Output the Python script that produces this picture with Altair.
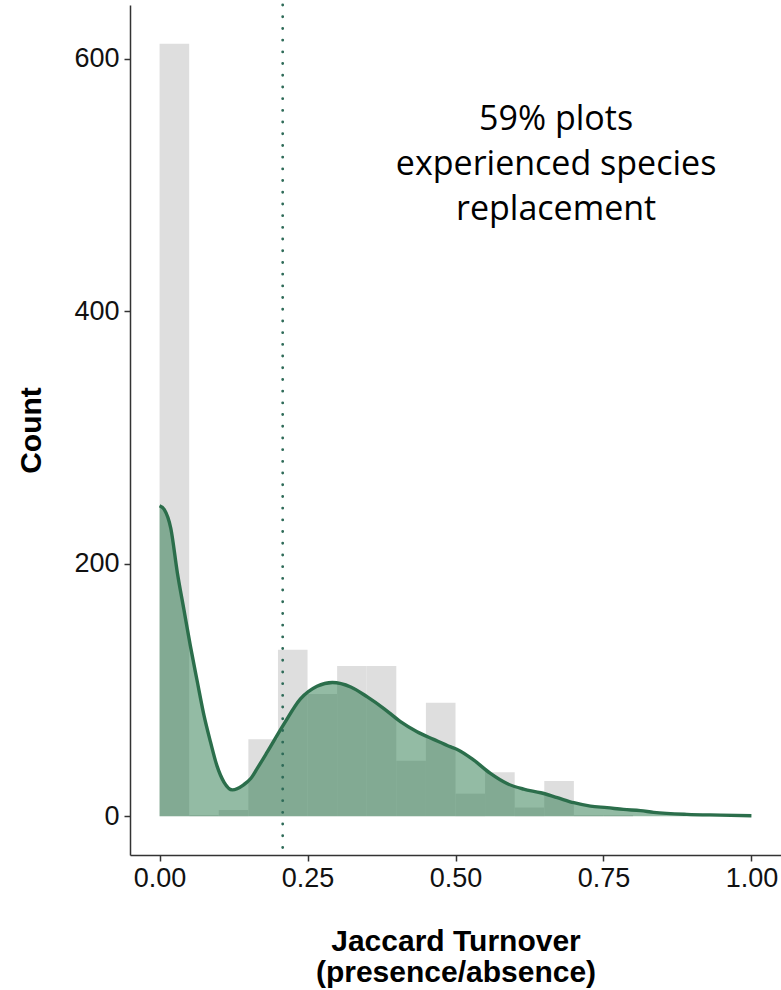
import altair as alt
import pandas as pd

# Histogram of Jaccard turnover (bin width 0.05)
bin_start = [0.00, 0.05, 0.10, 0.15, 0.20, 0.25, 0.30, 0.35, 0.40, 0.45,
             0.50, 0.55, 0.60, 0.65, 0.70, 0.75, 0.80, 0.85, 0.90, 0.95]
bin_count = [612, 1, 5, 61, 132, 97, 119, 119, 44, 90,
             18, 35, 7, 28, 1, 1, 0, 0, 0, 0]

# Kernel density, scaled to counts
dens_x = [0.000, 0.008, 0.019, 0.030, 0.041, 0.052, 0.064, 0.075, 0.086, 0.097,
          0.109, 0.123, 0.142, 0.154, 0.165, 0.182, 0.210, 0.238, 0.266, 0.292,
          0.323, 0.351, 0.379, 0.407, 0.435, 0.463, 0.492, 0.503, 0.531, 0.559,
          0.587, 0.615, 0.644, 0.672, 0.700, 0.728, 0.756, 0.784, 0.8125, 0.835,
          0.891, 0.948, 1.000]
dens_y = [246, 243, 228, 193, 164, 135, 106, 80, 59, 40,
          27, 21, 25, 30, 38, 51, 73, 93, 103, 106,
          102.5, 94.6, 85.4, 75, 67, 61, 55, 53, 44.5, 34,
          26, 21.6, 18.7, 14.8, 10.8, 8.1, 6.9, 5.5, 4.5, 3.2,
          1.6, 1.0, 0.5]

# Threshold for species replacement
threshold = [0.208]

annotation = ["59% plots", "experienced species", "replacement"]

hist_df = pd.DataFrame({
    "start": bin_start,
    "end": [b + 0.05 for b in bin_start],
    "count": bin_count,
})
dens_df = pd.DataFrame({"x": dens_x, "y": dens_y})
thr_df = pd.DataFrame({"x": threshold})
ann_df = pd.DataFrame({"x": [0.67], "y": [565], "label": ["\n".join(annotation)]})

x_scale = alt.Scale(domain=[-0.05, 1.05], nice=False, zero=False)
y_scale = alt.Scale(domain=[-30.6, 642.6], nice=False, zero=False)

x_axis = alt.Axis(
    title=["Jaccard Turnover", "(presence/absence)"],
    values=[0, 0.25, 0.5, 0.75, 1.0], format=".2f",
)
y_axis = alt.Axis(title="Count", values=[0, 200, 400, 600])

bars = alt.Chart(hist_df).mark_rect(color="#dedede").encode(
    x=alt.X("start:Q", scale=x_scale, axis=x_axis),
    x2="end:Q",
    y=alt.Y("count:Q", scale=y_scale, axis=y_axis),
    y2=alt.datum(0),
)

area = alt.Chart(dens_df).mark_area(
    color="#1e7141", opacity=0.48, interpolate="monotone"
).encode(
    x=alt.X("x:Q", scale=x_scale),
    y=alt.Y("y:Q", scale=y_scale),
    y2=alt.datum(0),
)

line = alt.Chart(dens_df).mark_line(
    color="#2b6e4b", strokeWidth=3.4, interpolate="monotone"
).encode(
    x=alt.X("x:Q", scale=x_scale),
    y=alt.Y("y:Q", scale=y_scale),
)

rule = alt.Chart(thr_df).mark_rule(
    color="#2e6b58", strokeWidth=2.8, strokeDash=[0.1, 11.6], strokeCap="round"
).encode(
    x=alt.X("x:Q", scale=x_scale),
    y=alt.value(0),
    y2=alt.value(850),
)

text = alt.Chart(ann_df).mark_text(
    font="Open Sans", fontSize=34, color="#000000", align="center",
    baseline="top", lineBreak="\n", lineHeight=45,
).encode(
    x=alt.X("x:Q", scale=x_scale),
    y=alt.Y("y:Q", scale=y_scale),
    text="label:N",
)

chart = alt.layer(bars, area, line, rule, text).properties(
    width=651, height=850,
    autosize=alt.AutoSizeParams(type="none"),
    padding={"left": 130, "top": 5, "right": 0, "bottom": 135},
    background="white",
).configure_view(
    stroke=None
).configure_axis(
    grid=False,
    domainColor="#333333", domainWidth=1.5,
    tickColor="#333333", tickWidth=1.5, tickSize=6,
    labelFont="Liberation Sans", labelFontSize=27, labelColor="#111111",
    titleFont="Liberation Sans", titleFontSize=30, titleFontWeight="bold",
    titleColor="#000000",
).configure_axisX(
    labelPadding=4, titlePadding=35, titleLineHeight=31,
).configure_axisY(
    labelPadding=5, titlePadding=27,
)

chart.save("out.html", embed_options={"renderer": "svg", "actions": False})
